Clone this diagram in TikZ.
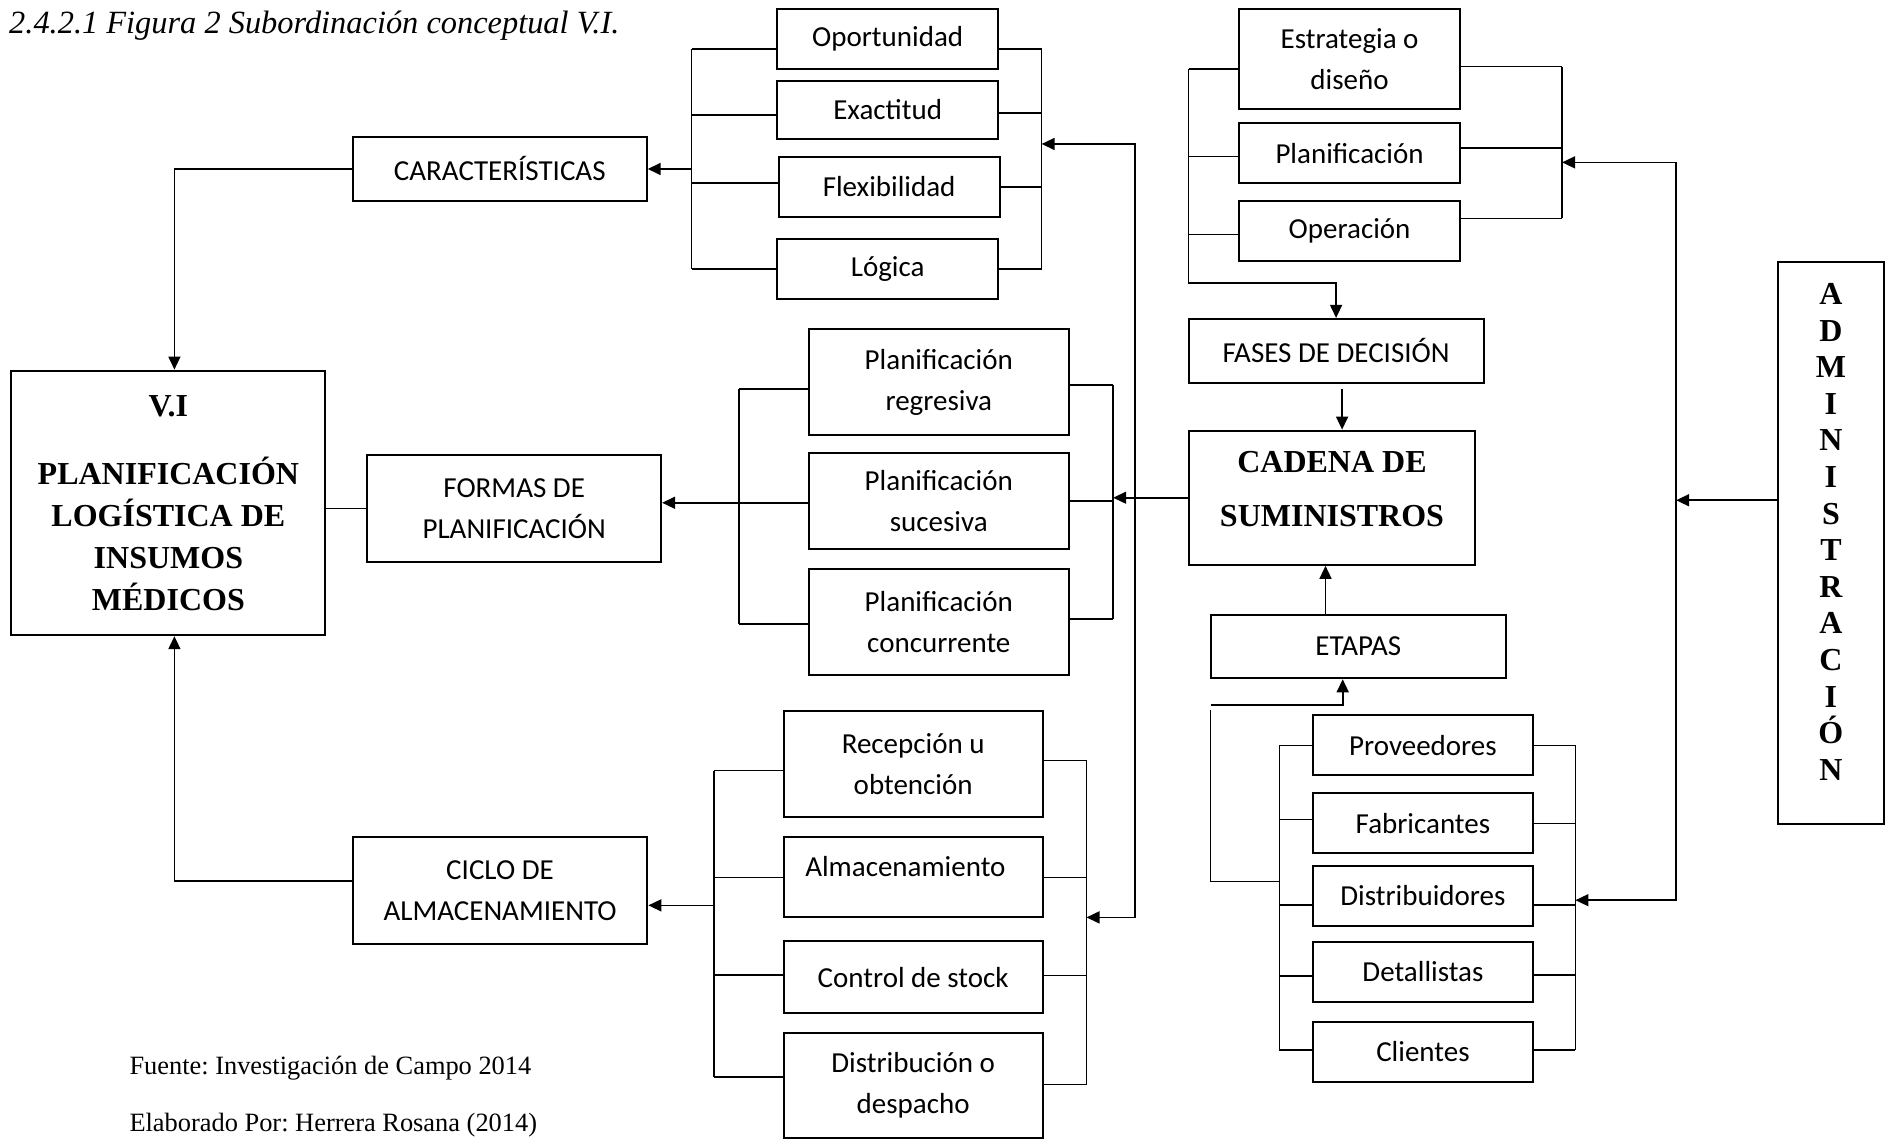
\documentclass[tikz,border=0pt]{standalone}
\usepackage{fontspec}
\setmainfont{Liberation Serif}
\newfontfamily\calibri{Carlito}
\usetikzlibrary{arrows.meta,positioning}
\newcommand\pxu{0.6014pt}
\frenchspacing

\begin{document}
\begin{tikzpicture}[
      x=0.6014pt, y=-0.6014pt,
      >={Triangle[length=6.5pt,width=6pt]},
      line width=0.8pt,
      item/.style={
         rectangle,
         draw,
         line width=1pt,
         inner sep=0pt,
         align=center,
         font=\calibri\fontsize{14.5}{20.5}\selectfont
      },
      head/.style={
         item,
         font=\bfseries\fontsize{16}{21}\selectfont
      },
      wh/.style 2 args={minimum width=#1*\pxu, minimum height=#2*\pxu},
      note/.style={anchor=base west, inner sep=0pt, font=\fontsize{13.2}{15}\selectfont}
    ]
    \useasboundingbox (0,0) rectangle (1568,947);
    \node (title) [note, font=\itshape\fontsize{16.2}{18}\selectfont] at (7,27.7) {2.4.2.1 Figura 2 Subordinación conceptual V.I.};

    % left half
    \node (opor) [item, wh={184}{50}] at (738,32.5) {Oportunidad};
    \node (exac) [item, wh={184}{48.6}] at (738,91.3) {Exactitud};
    \node (flex) [item, wh={183.6}{50.3}] at (739.2,155.5) {Flexibilidad};
    \node (logi) [item, wh={184}{50.2}] at (738,223.5) {Lógica};
    \node (carac) [item, wh={244.3}{53.8}] at (415.5,140.5) {CARACTERÍSTICAS};
    \node (vi) [head, wh={261}{220}] at (140,418.1) {V.I\\[12.9pt]PLANIFICACIÓN\\LOGÍSTICA DE\\INSUMOS\\MÉDICOS};
    \node (formas) [item, wh={244.3}{88.7}] at (427.5,422.7) {FORMAS DE\\PLANIFICACIÓN};
    \node (preg) [item, wh={216.3}{88.2}] at (780.5,317.6) {Planificación\\regresiva};
    \node (psuc) [item, wh={216.3}{80.3}] at (780.5,416.5) {Planificación\\sucesiva};
    \node (pcon) [item, wh={216.3}{88.4}] at (780.5,517) {Planificación\\concurrente};
    \node (ciclo) [item, wh={245}{88.6}] at (415.7,740.5) {CICLO DE\\ALMACENAMIENTO};
    \node (recep) [item, wh={215.6}{88.2}] at (759.2,635.2) {Recepción u\\obtención};
    \node (almac) [item, wh={215.6}{67}, text height=10pt, text depth=10pt] at (759.2,729.1) {Almacenamiento\hspace*{7.8pt}};
    \node (contr) [item, wh={215.6}{60}] at (759.2,812.4) {Control de stock};
    \node (distr) [item, wh={215.6}{87.8}] at (759.2,902.5) {Distribución o\\despacho};

    % right half
    \node (estr) [item, wh={184}{83}] at (1122,49) {Estrategia o\\diseño};
    \node (plan) [item, wh={184}{50}] at (1122,127.3) {Planificación};
    \node (oper) [item, wh={184}{50}] at (1122,192) {Operación};
    \node (fases) [item, wh={245.2}{53.3}] at (1110.8,291.8) {FASES DE DECISIÓN};
    \node (cadena) [head, wh={238.4}{111.6}, text depth=9pt, font=\bfseries\fontsize{16}{27}\selectfont] at (1107.4,413.8) {CADENA DE\\SUMINISTROS};
    \node (etapas) [item, wh={245.5}{53}] at (1129.2,537.4) {ETAPAS};
    \node (prov) [item, wh={183.3}{50}] at (1183,619.7) {Proveedores};
    \node (fabr) [item, wh={183.3}{49.7}] at (1183,684.5) {Fabricantes};
    \node (dist) [item, wh={183.3}{50}] at (1183,744.7) {Distribuidores};
    \node (deta) [item, wh={183.3}{49.3}] at (1183,808) {Detallistas};
    \node (clie) [item, wh={183.3}{50}] at (1183,874.4) {Clientes};
    \node (admin) [head, wh={87.5}{467.2}, text depth=10.8pt, font=\bfseries\fontsize{16}{18.3}\selectfont] at (1522.2,451.2) {A\\D\\M\\I\\N\\I\\S\\T\\R\\A\\C\\I\\Ó\\N};

    \node (fuente) [note] at (107,893.7) {Fuente: Investigación de Campo 2014};
    \node (elab) [note] at (107,940.9) {Elaborado Por: Herrera Rosana (2014)};

    % bracket columns
    \coordinate (cL) at (575,0);
    \coordinate (cR) at (866,0);
    \coordinate (fL) at (614.5,0);
    \coordinate (fR) at (925.5,0);
    \coordinate (aL) at (593.5,0);
    \coordinate (aR) at (903.3,0);
    \coordinate (eL) at (988.2,0);
    \coordinate (eR) at (1298.7,0);
    \coordinate (sL) at (1063.7,0);
    \coordinate (sR) at (1309.8,0);
    \coordinate (mt) at (943.5,119.7);
    \coordinate (mb) at (943.5,762.7);
    \coordinate (rt) at (1393.5,135);
    \coordinate (rb) at (1393.5,748.4);

    % caracteristicas
    \foreach \b/\l/\r in {opor/8.2/8.2, exac/4.3/2.7, flex/-3.4/0, logi/0/0} {
      \draw (\b.west) ++(0,\l) coordinate (l\b) -- (l\b -| cL);
      \draw (\b.east) ++(0,\r) coordinate (r\b) -- (r\b -| cR);
    }
    \draw (lopor -| cL) -- (llogi -| cL);
    \draw (ropor -| cR) -- (rlogi -| cR);
    \draw[->] (carac.east -| cL) -- (carac.east);
    \draw[<->] (mt -| cR) -- (mt) -- (mb) -- (mb -| aR);
    \draw[->] (carac.west) -| ([xshift=5*\pxu]vi.north);

    % formas
    \foreach \b/\l/\r in {preg/5.8/2.4, psuc/1.5/0, pcon/2/-2.6} {
      \draw (\b.west) ++(0,\l) coordinate (l\b) -- (l\b -| fL);
      \draw (\b.east) ++(0,\r) coordinate (r\b) -- (r\b -| fR);
    }
    \draw (lpreg -| fL) -- (lpcon -| fL);
    \draw (rpreg -| fR) -- (rpcon -| fR);
    \draw[->] (lpsuc -| fL) -- (lpsuc -| formas.east);
    \draw[->] (cadena.west) -- (cadena.west -| fR);
    \draw (formas.west) -- (formas.west -| vi.east);

    % ciclo
    \foreach \b/\l/\r in {recep/5.5/-2.8, almac/0.3/0.6, contr/-1.8/-1.5, distr/-7.3/-1} {
      \draw (\b.west) ++(0,\l) coordinate (l\b) -- (l\b -| aL);
      \draw (\b.east) ++(0,\r) coordinate (r\b) -- (r\b -| aR);
    }
    \draw (lrecep -| aL) -- (ldistr -| aL);
    \draw (rrecep -| aR) -- (rdistr -| aR);
    \path (ciclo.east) ++(0,12.2) coordinate (ca);
    \draw[->] (ca -| aL) -- (ca);
    \path (ciclo.west) ++(0,-8) coordinate (cb);
    \draw[->] (cb) -| ([xshift=5*\pxu]vi.south);

    % fases de decision
    \foreach \b/\l/\r in {estr/8.4/6.4, plan/2.7/-4.3, oper/2.8/-10.5} {
      \draw (\b.west) ++(0,\l) coordinate (l\b) -- (l\b -| eL);
      \draw (\b.east) ++(0,\r) coordinate (r\b) -- (r\b -| eR);
    }
    \draw[->] (lestr -| eL) |- ([yshift=28.8*\pxu]fases.north) -- (fases.north);
    \draw (restr -| eR) -- (roper -| eR);
    \draw[<->] (rt -| eR) -- (rt) -- (rb) -- (rb -| sR);
    \path (admin.west) ++(0,-35.3) coordinate (ad);
    \draw[->] (ad) -- (ad -| rt);
    \path (fases.south) ++(5,4.4) coordinate (fd);
    \draw[->] (fd) -- (fd |- cadena.north);

    % etapas
    \path (etapas.north) ++(-27.2,0) coordinate (eu);
    \draw[->] (eu) -- (eu |- cadena.south);
    \foreach \b/\l/\r in {prov/0/0, fabr/-3.2/0, dist/7.9/7.9, deta/3.3/2.6, clie/-1.7/-1.7} {
      \draw (\b.west) ++(0,\l) coordinate (l\b) -- (l\b -| sL);
      \draw (\b.east) ++(0,\r) coordinate (r\b) -- (r\b -| sR);
    }
    \draw (lprov -| sL) -- (lclie -| sL);
    \draw (rprov -| sR) -- (rclie -| sR);
    \coordinate (sj) at (1006.5,732.7);
    \draw (sj -| sL) -- (sj) -- ++(0,-142.3);
    \coordinate (ej) at (1006.5,586);
    \path (etapas.south) ++(-12.9,0) coordinate (eg);
    \draw[->] (ej) -| (eg);
\end{tikzpicture}
\end{document}
